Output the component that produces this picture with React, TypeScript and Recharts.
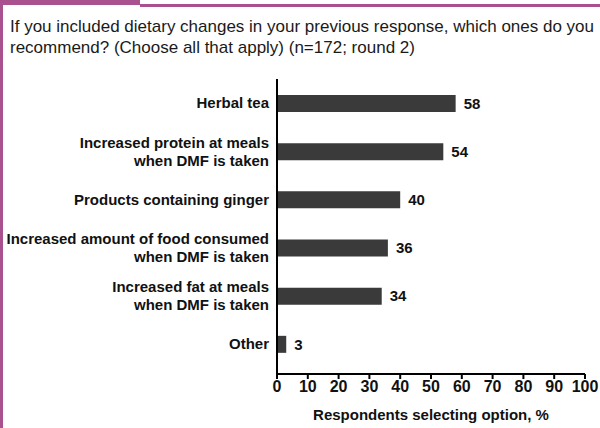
import React from "react";
import { BarChart, Bar, XAxis, YAxis, LabelList, Label } from "recharts";

const categories = [
  "Herbal tea",
  "Increased protein at meals\nwhen DMF is taken",
  "Products containing ginger",
  "Increased amount of food consumed\nwhen DMF is taken",
  "Increased fat at meals\nwhen DMF is taken",
  "Other",
];
const percents = [58, 54, 40, 36, 34, 3];
const xTicks = [0, 10, 20, 30, 40, 50, 60, 70, 80, 90, 100];

const FONT = '"Liberation Sans", Arial, Helvetica, sans-serif';
const PURPLE = "#a9508f";

const data = categories.map((name, i) => ({ name, value: percents[i] }));

function CategoryTick(props: any) {
  const { x, y, payload } = props;
  const lines = String(payload.value).split("\n");
  return (
    <text
      x={x}
      y={y}
      textAnchor="end"
      fontFamily={FONT}
      fontWeight="bold"
      fontSize={15}
      fill="#111"
    >
      {lines.map((line, i) => (
        <tspan key={i} x={x} y={y + (i - (lines.length - 1) / 2) * 18} dy="0.35em">
          {line}
        </tspan>
      ))}
    </text>
  );
}

export default function App() {
  return (
    <div
      style={{
        position: "absolute",
        left: 0,
        top: 0,
        width: 600,
        height: 428,
        background: "#fff",
        fontFamily: FONT,
        overflow: "hidden",
      }}
    >
      {/* purple frame pieces */}
      <div style={{ position: "absolute", left: 0, top: 0, width: 3, height: 428, background: PURPLE }} />
      <div style={{ position: "absolute", left: 0, top: 0, width: 140, height: 5, background: PURPLE }} />
      <div style={{ position: "absolute", left: 140, top: 4, width: 460, height: 3, background: PURPLE }} />

      <div
        style={{
          position: "absolute",
          left: 10,
          top: 16,
          fontSize: 17,
          lineHeight: "21px",
          color: "#1a1a1a",
          whiteSpace: "nowrap",
        }}
      >
        If you included dietary changes in your previous response, which ones do you
        <br />
        recommend? (Choose all that apply) (n=172; round 2)
      </div>

      <div style={{ position: "absolute", left: 0, top: 0 }}>
        <BarChart
          width={600}
          height={428}
          data={data}
          layout="vertical"
          margin={{ top: 79, right: 15, bottom: 0, left: 0 }}
        >
          <XAxis
            type="number"
            domain={[0, 100]}
            ticks={xTicks}
            interval={0}
            height={54}
            axisLine={{ stroke: "#000", strokeWidth: 2 }}
            tickLine={{ stroke: "#000", strokeWidth: 2 }}
            tickSize={5}
            tick={{ fill: "#111", fontSize: 16, fontWeight: "bold", fontFamily: FONT }}
          >
            <Label
              value="Respondents selecting option, %"
              position="insideBottom"
              offset={8}
              fill="#111"
              fontSize={15}
              fontWeight="bold"
              fontFamily={FONT}
            />
          </XAxis>
          <YAxis
            type="category"
            dataKey="name"
            width={277}
            interval={0}
            padding={{ top: 0, bottom: 6 }}
            axisLine={{ stroke: "#000", strokeWidth: 2 }}
            tickLine={false}
            tick={<CategoryTick />}
          />
          <Bar dataKey="value" fill="#3a3a3a" barSize={17} isAnimationActive={false}>
            <LabelList
              dataKey="value"
              position="right"
              offset={8}
              fill="#111"
              fontSize={15}
              fontWeight="bold"
              fontFamily={FONT}
            />
          </Bar>
        </BarChart>
      </div>
    </div>
  );
}
